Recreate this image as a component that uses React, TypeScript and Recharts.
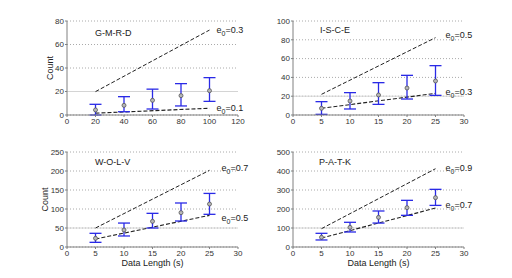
import React from 'react';
import {
  ComposedChart,
  Line,
  Scatter,
  ErrorBar,
  XAxis,
  YAxis,
  CartesianGrid,
  ReferenceLine,
  ReferenceDot,
} from 'recharts';

const FONT = '"Liberation Sans", Arial, Helvetica, sans-serif';

// ---- G-M-R-D ----
const gmrdX = [20, 40, 60, 80, 100];
const gmrdMean = [4.3, 8.2, 12.5, 16.5, 20.7];
const gmrdLow = [0, 2.8, 5.1, 7.7, 11.6];
const gmrdHigh = [9.1, 15.6, 22, 26.7, 31.8];
const gmrdUpperEnds = [19.9, 72.3];
const gmrdLowerEnds = [1.6, 5.7];

// ---- I-S-C-E ----
const isceX = [5, 10, 15, 20, 25];
const isceMean = [7.1, 14.9, 21.3, 28.7, 36.2];
const isceLow = [0.7, 6.4, 11.3, 17, 20.9];
const isceHigh = [14.2, 23.8, 34.4, 42.2, 52.5];
const isceUpperEnds = [22, 82.3];
const isceLowerEnds = [7.1, 23];

// ---- W-O-L-V ----
const wolvX = [5, 10, 15, 20, 25];
const wolvMean = [22.8, 44.7, 67.5, 90.4, 113];
const wolvLow = [12.3, 29, 50, 68.4, 86];
const wolvHigh = [36, 63, 88.6, 115.8, 141];
const wolvUpperEnds = [50, 201.8];
const wolvLowerEnds = [21, 83.3];

// ---- P-A-T-K ----
const patkX = [5, 10, 15, 20, 25];
const patkMean = [51, 103.5, 156, 207, 259.6];
const patkLow = [37, 79, 126, 166.7, 219];
const patkHigh = [72, 130, 189.5, 245.6, 303.5];
const patkUpperEnds = [96.5, 412];
const patkLowerEnds = [47, 205];

// tick labels
const xTicks120 = [0, 20, 40, 60, 80, 100, 120];
const xTicks30 = [0, 5, 10, 15, 20, 25, 30];
const yTicks80 = [0, 20, 40, 60, 80];
const yTicks100 = [0, 20, 40, 60, 80, 100];
const yTicks250 = [0, 50, 100, 150, 200, 250];
const yTicks500 = [0, 100, 200, 300, 400, 500];

function buildRows(
  xs: number[],
  mean: number[],
  low: number[],
  high: number[],
  upper: number[],
  lower: number[]
) {
  const last = xs.length - 1;
  return xs.map((x, i) => ({
    x,
    mean: mean[i],
    err: [mean[i] - low[i], high[i] - mean[i]],
    upper: i === 0 ? upper[0] : i === last ? upper[1] : null,
    lower: i === 0 ? lower[0] : i === last ? lower[1] : null,
  }));
}

const eLabel = (val: string, dx: number, dy: number) => (props: any) => {
  const vb = props.viewBox || {};
  const x = (vb.x || 0) + (vb.width || 0) / 2 + dx;
  const y = (vb.y || 0) + (vb.height || 0) / 2 + dy;
  return (
    <text x={x} y={y} fontSize={9} fill="#222" fontFamily={FONT}>
      e
      <tspan dy={3} fontSize={7}>
        0
      </tspan>
      <tspan dy={-3}>={val}</tspan>
    </text>
  );
};

const Marker = (props: any) => {
  const { cx, cy } = props;
  if (cx == null || cy == null) return <g />;
  return <circle cx={cx} cy={cy} r={2} fill="#b8b8b8" stroke="#555" strokeWidth={0.8} />;
};

type PanelProps = {
  left: number;
  top: number;
  rows: any[];
  xDomain: [number, number];
  xTicks: number[];
  yDomain: [number, number];
  yTicks: number[];
  margin: { top: number; right: number; bottom: number; left: number };
  yWidth: number;
  xHeight: number;
  countOffset?: number;
  showX?: boolean;
  upperText: string;
  lowerText: string;
  upperOff: [number, number];
  lowerOff: [number, number];
  title: string;
  titleLeft: number;
  titleTop: number;
};

function Panel(p: PanelProps) {
  const last = p.rows[p.rows.length - 1];
  return (
    <>
      <div style={{ position: 'absolute', left: p.left, top: p.top, width: 256, height: 139 }}>
        <ComposedChart width={256} height={139} data={p.rows} margin={p.margin}>
          <CartesianGrid vertical={false} stroke="#aaa" strokeDasharray="1 2" />
          <ReferenceLine y={p.yTicks[1]} stroke="#d4d4d4" strokeWidth={1} />
          <XAxis
            type="number"
            dataKey="x"
            domain={p.xDomain}
            ticks={p.xTicks}
            interval={0}
            height={p.xHeight}
            stroke="#808080"
            tickSize={2}
            tickMargin={1}
            tick={{ fontSize: 8, fill: '#333', fontFamily: FONT }}
            label={
              p.showX
                ? {
                    value: 'Data Length (s)',
                    position: 'insideBottom',
                    offset: 5.5,
                    fontSize: 9,
                    fill: '#222',
                    fontFamily: FONT,
                  }
                : undefined
            }
          />
          <YAxis
            type="number"
            domain={p.yDomain}
            ticks={p.yTicks}
            interval={0}
            width={p.yWidth}
            stroke="#808080"
            tickSize={2}
            tickMargin={1}
            tick={{ fontSize: 8, fill: '#333', fontFamily: FONT }}
            label={
              p.countOffset !== undefined
                ? {
                    value: 'Count',
                    angle: -90,
                    position: 'insideLeft',
                    offset: p.countOffset,
                    fontSize: 9,
                    fill: '#222',
                    fontFamily: FONT,
                    style: { textAnchor: 'middle' },
                  }
                : undefined
            }
          />
          <Line
            dataKey="upper"
            connectNulls
            stroke="#222"
            strokeWidth={1}
            strokeDasharray="4 2"
            dot={false}
            activeDot={false}
            isAnimationActive={false}
          />
          <Line
            dataKey="lower"
            connectNulls
            stroke="#222"
            strokeWidth={1.1}
            strokeDasharray="4 2"
            dot={false}
            activeDot={false}
            isAnimationActive={false}
          />
          <Scatter data={p.rows} dataKey="mean" shape={Marker} isAnimationActive={false}>
            <ErrorBar dataKey="err" direction="y" width={6} stroke="#2a2ae6" strokeWidth={1.3} />
          </Scatter>
          <ReferenceDot
            x={last.x}
            y={last.upper}
            r={0}
            fill="none"
            stroke="none"
            label={eLabel(p.upperText, p.upperOff[0], p.upperOff[1])}
          />
          <ReferenceDot
            x={last.x}
            y={last.lower}
            r={0}
            fill="none"
            stroke="none"
            label={eLabel(p.lowerText, p.lowerOff[0], p.lowerOff[1])}
          />
        </ComposedChart>
      </div>
      <div
        style={{
          position: 'absolute',
          left: p.titleLeft,
          top: p.titleTop,
          fontSize: 9,
          lineHeight: '9px',
          fontFamily: FONT,
          color: '#222',
          whiteSpace: 'nowrap',
        }}
      >
        {p.title}
      </div>
    </>
  );
}

export default function App() {
  const gmrd = buildRows(gmrdX, gmrdMean, gmrdLow, gmrdHigh, gmrdUpperEnds, gmrdLowerEnds);
  const isce = buildRows(isceX, isceMean, isceLow, isceHigh, isceUpperEnds, isceLowerEnds);
  const wolv = buildRows(wolvX, wolvMean, wolvLow, wolvHigh, wolvUpperEnds, wolvLowerEnds);
  const patk = buildRows(patkX, patkMean, patkLow, patkHigh, patkUpperEnds, patkLowerEnds);
  return (
    <div
      style={{
        position: 'absolute',
        left: 0,
        top: 0,
        width: 512,
        height: 278,
        background: '#fff',
        overflow: 'hidden',
      }}
    >
      <Panel
        left={0}
        top={0}
        rows={gmrd}
        xDomain={[0, 120]}
        xTicks={xTicks120}
        yDomain={[0, 80]}
        yTicks={yTicks80}
        margin={{ top: 21, right: 18, bottom: 10, left: 42 }}
        yWidth={25}
        xHeight={14}
        countOffset={8}
        upperText="0.3"
        lowerText="0.1"
        upperOff={[7, 3]}
        lowerOff={[7, 3]}
        title="G-M-R-D"
        titleLeft={95}
        titleTop={29}
      />
      <Panel
        left={256}
        top={0}
        rows={isce}
        xDomain={[0, 30]}
        xTicks={xTicks30}
        yDomain={[0, 100]}
        yTicks={yTicks100}
        margin={{ top: 21, right: 48, bottom: 10, left: 12 }}
        yWidth={25}
        xHeight={14}
        upperText="0.5"
        lowerText="0.3"
        upperOff={[10, 0]}
        lowerOff={[10, 1.5]}
        title="I-S-C-E"
        titleLeft={320}
        titleTop={26}
      />
      <Panel
        left={0}
        top={139}
        rows={wolv}
        xDomain={[0, 30]}
        xTicks={xTicks30}
        yDomain={[0, 250]}
        yTicks={yTicks250}
        margin={{ top: 13, right: 18, bottom: 7, left: 42 }}
        yWidth={25}
        xHeight={24}
        countOffset={3}
        showX
        upperText="0.7"
        lowerText="0.5"
        upperOff={[12, 1]}
        lowerOff={[12, 5.5]}
        title="W-O-L-V"
        titleLeft={95}
        titleTop={157.5}
      />
      <Panel
        left={256}
        top={139}
        rows={patk}
        xDomain={[0, 30]}
        xTicks={xTicks30}
        yDomain={[0, 500]}
        yTicks={yTicks500}
        margin={{ top: 13, right: 48, bottom: 7, left: 12 }}
        yWidth={25}
        xHeight={24}
        showX
        upperText="0.9"
        lowerText="0.7"
        upperOff={[10, 2]}
        lowerOff={[10, 0]}
        title="P-A-T-K"
        titleLeft={319}
        titleTop={158}
      />
    </div>
  );
}
